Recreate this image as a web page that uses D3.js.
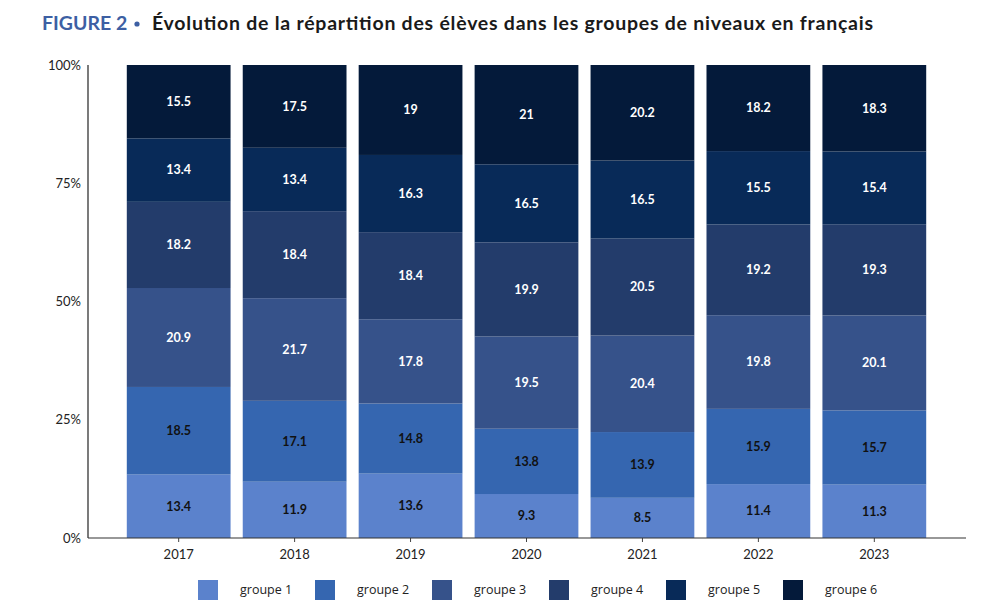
<!DOCTYPE html>
<html>
<head>
<meta charset="utf-8">
<script src="https://cdn.jsdelivr.net/npm/d3@7"></script>
<style>
  body { margin: 0; background: #fff; }
  svg { display: block; }
</style>
</head>
<body>
<svg id="chart" width="998" height="612"></svg>
<script>
const years = ["2017", "2018", "2019", "2020", "2021", "2022", "2023"];
const groups = ["groupe 1", "groupe 2", "groupe 3", "groupe 4", "groupe 5", "groupe 6"];
const groupe1 = [13.4, 11.9, 13.6, 9.3, 8.5, 11.4, 11.3];
const groupe2 = [18.5, 17.1, 14.8, 13.8, 13.9, 15.9, 15.7];
const groupe3 = [20.9, 21.7, 17.8, 19.5, 20.4, 19.8, 20.1];
const groupe4 = [18.2, 18.4, 18.4, 19.9, 20.5, 19.2, 19.3];
const groupe5 = [13.4, 13.4, 16.3, 16.5, 16.5, 15.5, 15.4];
const groupe6 = [15.5, 17.5, 19, 21, 20.2, 18.2, 18.3];
const yTicks = [0, 0.25, 0.5, 0.75, 1];

const colors = ["#5b82cc", "#3566b0", "#36528a", "#233c6b", "#082a58", "#041a3a"];
const labelColors = ["#111", "#111", "#fff", "#fff", "#fff", "#fff"];

const series = [groupe1, groupe2, groupe3, groupe4, groupe5, groupe6];
const rows = years.map((y, i) => {
    const r = { year: y };
    groups.forEach((g, k) => r[g] = series[k][i]);
    return r;
});

const svg = d3.select("#chart");
const font = "Lato, 'Open Sans', sans-serif";

// title
svg.append("text")
    .attr("x", 42)
    .attr("y", 30)
    .attr("fill", "#3d5fa3")
    .style("font-family", font)
    .style("font-size", "19.5px")
    .style("font-weight", "bold")
    .text("FIGURE 2");
svg.append("circle")
    .attr("cx", 137).attr("cy", 24).attr("r", 2.6)
    .attr("fill", "#3d5fa3");
svg.append("text")
    .attr("x", 152)
    .attr("y", 30)
    .attr("fill", "#1a1a1a")
    .attr("textLength", 721)
    .attr("lengthAdjust", "spacing")
    .style("font-family", font)
    .style("font-size", "19.5px")
    .style("font-weight", "bold")
    .text("Évolution de la répartition des élèves dans les groupes de niveaux en français");

const x = d3.scaleBand()
    .domain(years)
    .range([121, 932])
    .paddingInner(0.105)
    .paddingOuter(0.05);

const y = d3.scaleLinear()
    .domain([0, 1])
    .range([538, 65]);

const stack = d3.stack()
    .keys(groups)
    .offset(d3.stackOffsetExpand);

const layers = stack(rows);

const g = svg.append("g");

layers.forEach((layer, k) => {
    const lg = g.append("g");
    lg.selectAll("rect")
        .data(layer)
        .join("rect")
        .attr("x", d => x(d.data.year))
        .attr("width", x.bandwidth())
        .attr("y", d => y(d[1]))
        .attr("height", d => y(d[0]) - y(d[1]))
        .attr("fill", colors[k]);

    lg.selectAll("text")
        .data(layer)
        .join("text")
        .attr("x", d => x(d.data.year) + x.bandwidth() / 2)
        .attr("y", d => (y(d[0]) + y(d[1])) / 2)
        .attr("dy", "0.35em")
        .attr("text-anchor", "middle")
        .attr("fill", labelColors[k])
        .style("font-family", font)
        .style("font-size", "12.5px")
        .style("font-weight", "bold")
        .text(d => d.data[groups[k]]);
});

// y axis
svg.append("line")
    .attr("x1", 88).attr("x2", 88)
    .attr("y1", 65).attr("y2", 538)
    .attr("stroke", "#222").attr("stroke-width", 1.2);

svg.append("g").selectAll("text")
    .data(yTicks)
    .join("text")
    .attr("x", 81)
    .attr("y", d => y(d))
    .attr("dy", "0.35em")
    .attr("text-anchor", "end")
    .attr("fill", "#222")
    .style("font-family", font)
    .style("font-size", "13px")
    .text(d => d3.format(".0%")(d));

// x axis
const xAxis = svg.append("g")
    .attr("transform", "translate(0,538)")
    .call(d3.axisBottom(x).tickSize(4).tickSizeOuter(0));
xAxis.select(".domain").remove();
xAxis.selectAll(".tick line").attr("stroke", "#444");
xAxis.selectAll(".tick text")
    .attr("fill", "#222")
    .attr("dy", "1.1em")
    .style("font-family", font)
    .style("font-size", "13px");
svg.append("line")
    .attr("x1", 88).attr("x2", 966)
    .attr("y1", 538).attr("y2", 538)
    .attr("stroke", "#333").attr("stroke-width", 1.2);

// legend
const legend = svg.append("g").selectAll("g")
    .data(groups)
    .join("g")
    .attr("transform", (d, i) => `translate(${198 + i * 117},580)`);
legend.append("rect")
    .attr("width", 20).attr("height", 20)
    .attr("fill", (d, i) => colors[i]);
legend.append("text")
    .attr("x", 42).attr("y", 10)
    .attr("dy", "0.35em")
    .attr("fill", "#222")
    .style("font-family", "'Open Sans', sans-serif")
    .style("font-size", "12.5px")
    .text(d => d);
</script>
</body>
</html>
